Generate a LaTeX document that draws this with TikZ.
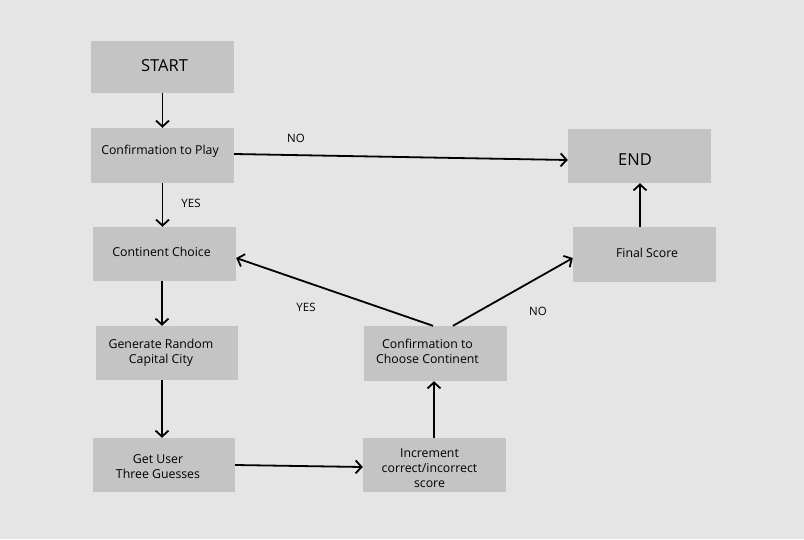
\documentclass[tikz,border=0pt]{standalone}
\usepackage{fontspec}
\setmainfont{Open Sans}
\usetikzlibrary{arrows.meta}
\definecolor{bg}{HTML}{E5E5E5}
\definecolor{boxgray}{HTML}{C4C4C4}
\tikzset{
  box/.style={fill=boxgray, draw=none, minimum width=143pt, minimum height=54pt, inner sep=0pt},
  txt/.style={inner sep=0pt, align=center, font=\fontsize{12.3}{15}\selectfont, text height=8.9pt, text depth=0pt},
  bigtxt/.style={inner sep=0pt, font=\fontsize{16.5}{18}\selectfont, text height=12pt, text depth=0pt},
  flow/.style={line width=1.8pt, -{Straight Barb[length=6pt,width=13pt,line width=1.8pt]}},
  lbl/.style={font=\fontsize{11.5}{14}\selectfont, inner sep=0pt}
}
\begin{document}
\begin{tikzpicture}[x=1pt,y=-1pt]
\fill[bg] (0,0) rectangle (804,539);
\useasboundingbox (0,0) rectangle (804,539);
\node[box, minimum height=52pt, label={[bigtxt, xshift=2pt, yshift=2pt]center:START}] (start) at (162.5,67) {};
\node[box, minimum height=55pt, label={[txt, xshift=-2.5pt, yshift=5.5pt]center:Confirmation to Play}] (ctp) at (162.5,155.5) {};
\node[box, label={[txt, xshift=-3pt, yshift=2pt]center:Continent Choice}] (cc) at (164.5,254) {};
\node[box, minimum width=142pt, label={[txt, xshift=-6pt, yshift=-6pt]center:Generate Random\\Capital City}] (gen) at (167,353) {};
\node[box, minimum width=142pt, label={[txt, xshift=-6pt, yshift=-9pt]center:Get User\\Three Guesses}] (gu) at (164,465) {};
\node[box, label={[txt, xshift=-5pt, yshift=-18pt]center:Increment\\correct/incorrect\\score}] (inc) at (434.5,465) {};
\node[box, minimum height=55pt, label={[txt, xshift=-8pt, yshift=-5.5pt]center:Confirmation to\\Choose Continent}] (ctcc) at (435.5,353.5) {};
\node[box, minimum height=55pt, label={[txt, xshift=2.5pt, yshift=1.5pt]center:Final Score}] (fs) at (644.5,254.5) {};
\node[box, label={[bigtxt, xshift=-4.5pt, yshift=-3pt]center:END}] (end) at (639.5,156) {};

\draw[flow] (start.south) -- (start.south |- ctp.north);
\draw[flow] (ctp.south) -- (ctp.south |- cc.north);
\draw[flow] ([yshift=1.5pt]ctp.east) -- ([yshift=-4pt]end.west);
\draw[flow] ([xshift=-2.5pt]cc.south) -- ([xshift=-2.5pt]cc.south |- gen.north);
\draw[flow] ([xshift=-5pt]gen.south) -- ([xshift=-5pt]gen.south |- gu.north);
\draw[flow] (gu.east) -- ([yshift=-2pt]inc.west);
\draw[flow] ([xshift=-0.5pt]inc.north) -- ([xshift=-0.5pt]inc.north |- ctcc.south);
\draw[flow] ([xshift=-2.5pt]ctcc.north) -- ([yshift=-4pt]cc.east);
\draw[flow] ([xshift=17.5pt]ctcc.north) -- ([yshift=-3.5pt]fs.west);
\draw[flow] ([xshift=-4.5pt]fs.north) -- ([xshift=-4.5pt]fs.north |- end.south);

\node[lbl] (no1) at (296,138) {NO};
\node[lbl] (yes1) at (191,203) {YES};
\node[lbl] (yes2) at (306,307) {YES};
\node[lbl] (no2) at (538,311) {NO};
\end{tikzpicture}
\end{document}
